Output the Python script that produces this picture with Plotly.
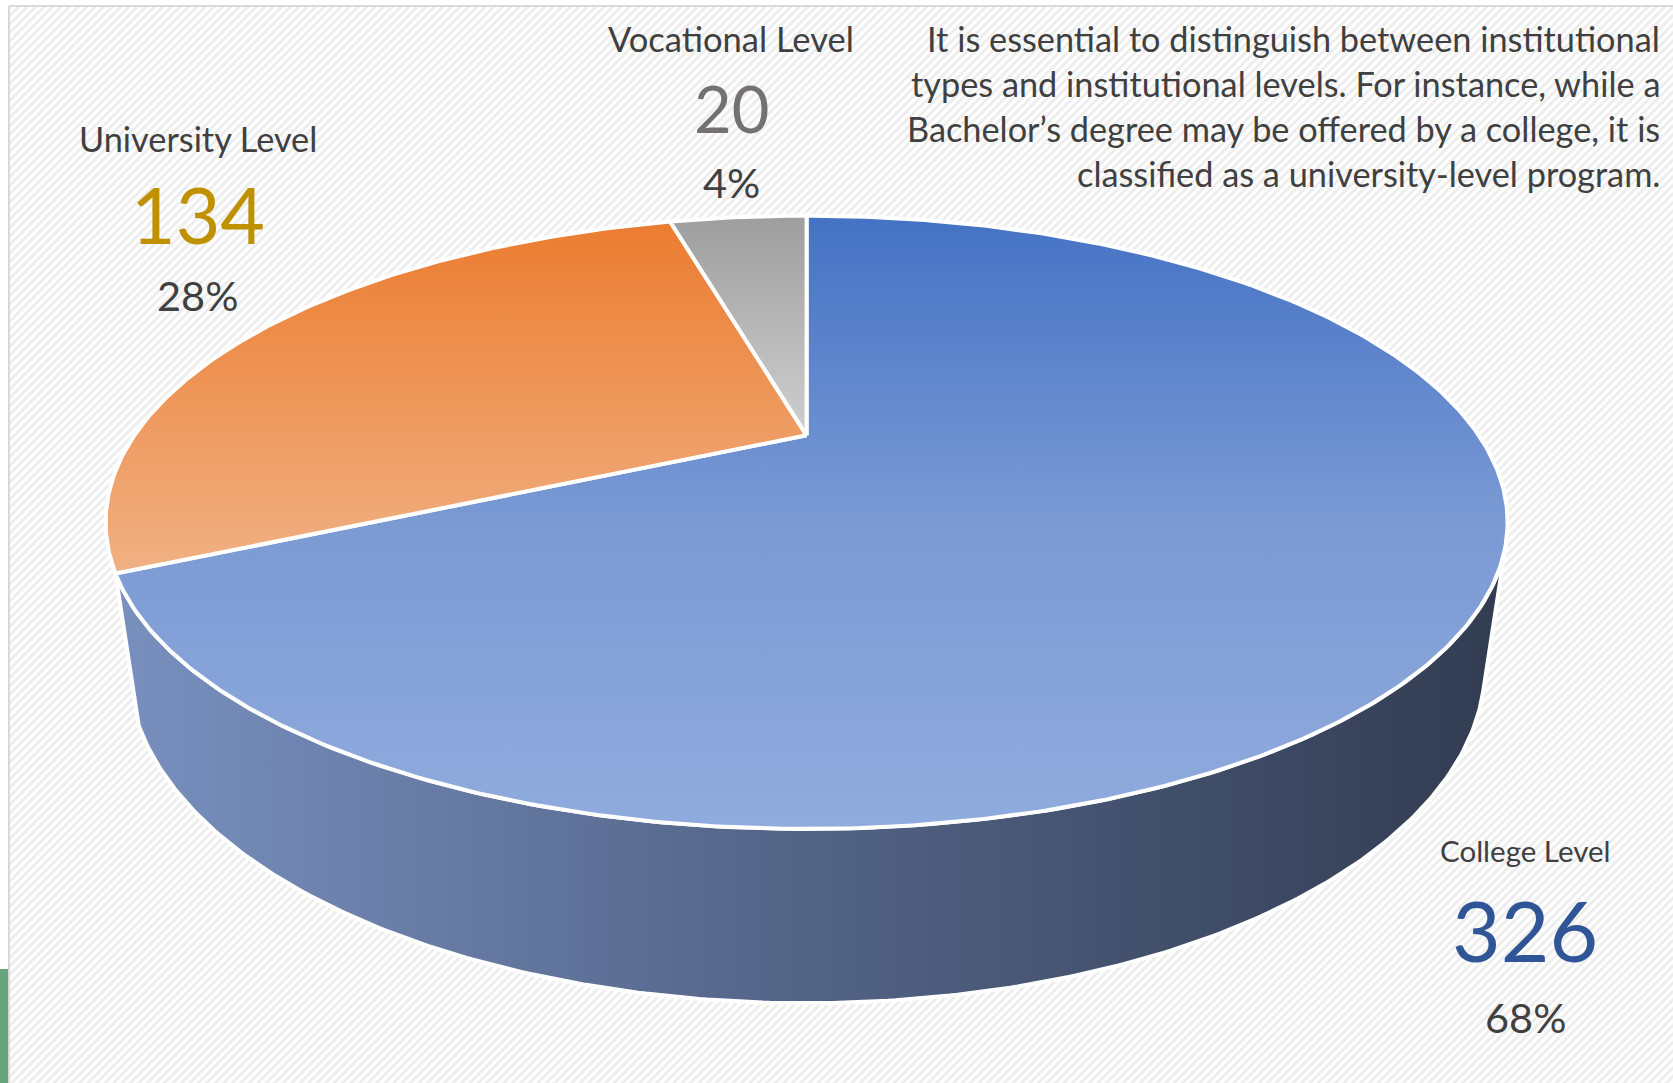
import numpy as np
import plotly.graph_objects as go

# ---- data -------------------------------------------------------------
categories = ["College Level", "University Level", "Vocational Level"]
counts = [326, 134, 20]
note_lines = [
    "It is essential to distinguish between institutional",
    "types and institutional levels. For instance, while a",
    "Bachelor\u2019s degree may be offered by a college, it is",
    "classified as a university-level program.",
]

# ---- styling ------------------------------------------------------------
W, H = 1673, 1083
TOP_SCALES = [
    [[0, "#90abdd"], [0.5, "#7b9ad4"], [1, "#4472c4"]],     # college
    [[0, "#f1b184"], [1, "#eb7c30"]],                      # university
    [[0, "#cfcfcf"], [1, "#9e9e9e"]],                      # vocational
]
WALL_SCALES = [
    [[0, "#7990bf"], [0.45, "#56678b"], [1, "#323c51"]],
    [[0, "#c06a30"], [1, "#a85a28"]],
    [[0, "#8a8a8a"], [1, "#707070"]],
]
VALUE_COLORS = ["#2f5597", "#bf9000", "#767171"]
VALUE_SIZES = [84, 77, 65]
NAME_SIZES = [29.5, 34.3, 34.5]
PCT_SIZE = 41.5
TEXT_GREY = "#404040"
FONT = "Lato"

# ---- perspective camera for the tilted pie -------------------------------
CX, CY = 806.6, 435.3        # screen position of the pie centre
FOCAL = 2151.0
DIST = 3.2                   # camera distance in pie radii
TILT = np.radians(24.8)      # camera elevation
THICK = 0.233                # pie thickness in pie radii
MIN_WALL = 10.0              # degrees; thinner visible wall strips are not drawn


def project(theta_deg, radius=1.0, level=0.0):
    """Project a point of the pie (angle clockwise from 12 o'clock) to page coords."""
    t = np.radians(theta_deg)
    s, c = np.sin(TILT), np.cos(TILT)
    vx = radius * np.sin(t)
    vy = level - DIST * s
    vz = -radius * np.cos(t) - DIST * c
    depth = -vy * s - vz * c
    up = vy * c - vz * s
    sx = CX + FOCAL * vx / depth
    sy = CY - FOCAL * up / depth
    return sx, -sy


def arc(a0, a1, level=0.0):
    n = max(int(abs(a1 - a0) * 2), 2)
    th = np.linspace(a0, a1, n + 1)
    return project(th, 1.0, level)


total = sum(counts)
fractions = [v / total for v in counts]
bounds = np.concatenate([[0.0], np.cumsum(fractions) * 360.0])

# side wall faces the camera where cos(theta) < -1 / (DIST * cos(TILT))
lim = np.degrees(np.arccos(-1.0 / (DIST * np.cos(TILT))))
wall_lo, wall_hi = lim, 360.0 - lim

fig = go.Figure()

# hatched chart area
fig.add_trace(go.Scatter(
    x=[9, W + 5, W + 5, 9, 9], y=[-6, -6, -H - 5, -H - 5, -6],
    mode="lines", fill="toself",
    line=dict(color="#d9d9d9", width=2),
    fillcolor="white",
    fillpattern=dict(shape="/", fgcolor="#d9d9d9", bgcolor="white",
                     size=6, solidity=0.45),
    hoverinfo="skip", showlegend=False,
))

# outer walls
for i in range(len(counts)):
    a0, a1 = bounds[i], bounds[i + 1]
    lo, hi = max(a0, wall_lo), min(a1, wall_hi)
    if hi - lo < MIN_WALL:
        continue
    tx, ty = arc(lo, hi, 0.0)
    bx, by = arc(hi, lo, -THICK)
    xs = np.concatenate([tx, bx, tx[:1]])
    ys = np.concatenate([ty, by, ty[:1]])
    fig.add_trace(go.Scatter(
        x=xs, y=ys, mode="lines", fill="toself",
        line=dict(color="white", width=4),
        fillgradient=dict(type="horizontal", colorscale=WALL_SCALES[i]),
        hoverinfo="skip", showlegend=False,
    ))

# top faces
for i in range(len(counts)):
    a0, a1 = bounds[i], bounds[i + 1]
    ax, ay = arc(a0, a1, 0.0)
    cx0, cy0 = project(0.0, 0.0, 0.0)
    xs = np.concatenate([[cx0], ax, [cx0]])
    ys = np.concatenate([[cy0], ay, [cy0]])
    fig.add_trace(go.Scatter(
        x=xs, y=ys, mode="lines", fill="toself",
        line=dict(color="white", width=4),
        fillgradient=dict(type="vertical", colorscale=TOP_SCALES[i]),
        hoverinfo="skip", showlegend=False,
    ))

# data labels: name, value, percentage
label_pos = [(1525, 850, 929, 1017), (197.5, 138.5, 214, 295), (731, 38, 108, 181.5)]
annotations = []
for i, name in enumerate(categories):
    x, y_name, y_val, y_pct = label_pos[i]
    annotations.append(dict(x=x, y=-y_name, text=name, showarrow=False,
                            xanchor="center", yanchor="middle",
                            font=dict(family=FONT, size=NAME_SIZES[i], color=TEXT_GREY)))
    annotations.append(dict(x=x, y=-y_val, text=str(counts[i]), showarrow=False,
                            xanchor="center", yanchor="middle",
                            font=dict(family=FONT, size=VALUE_SIZES[i], color=VALUE_COLORS[i])))
    annotations.append(dict(x=x, y=-y_pct, text=f"{round(fractions[i] * 100)}%", showarrow=False,
                            xanchor="center", yanchor="middle",
                            font=dict(family=FONT, size=PCT_SIZE, color=TEXT_GREY)))

# explanatory note, right aligned
for k, line in enumerate(note_lines):
    annotations.append(dict(x=1662, y=-(38.5 + 45 * k), text=line, showarrow=False,
                            xanchor="right", yanchor="middle",
                            font=dict(family=FONT, size=34.3, color=TEXT_GREY)))

fig.update_layout(
    width=W, height=H,
    margin=dict(l=0, r=0, t=0, b=0),
    paper_bgcolor="white", plot_bgcolor="white",
    xaxis=dict(range=[0, W], visible=False, fixedrange=True),
    yaxis=dict(range=[-H, 0], visible=False, fixedrange=True),
    annotations=annotations,
    shapes=[dict(type="rect", xref="x", yref="y", x0=0, x1=8, y0=-969, y1=-H - 5,
                 fillcolor="#6aa47a", line=dict(width=0), layer="above")],
    showlegend=False,
)

fig.write_html("out.html")
